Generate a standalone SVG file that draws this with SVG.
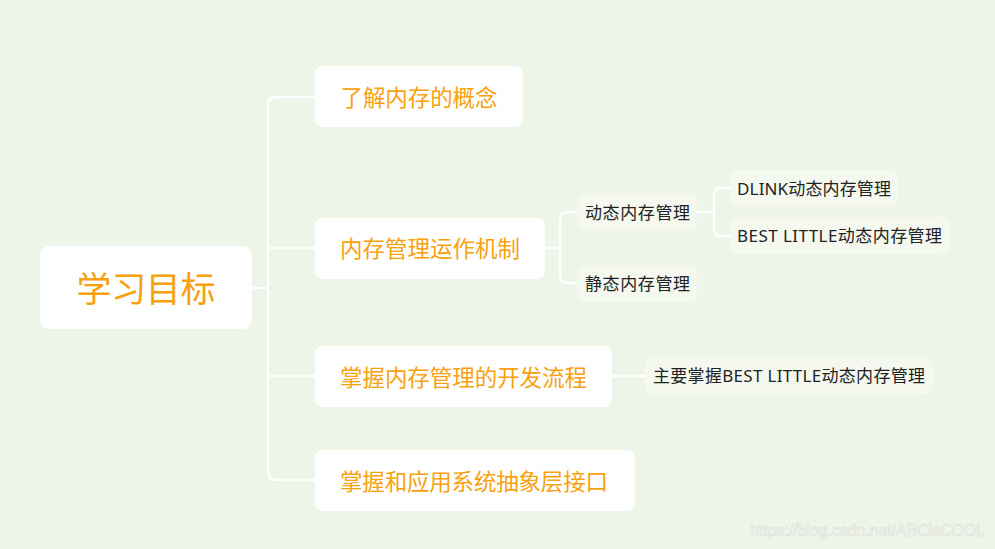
<svg xmlns="http://www.w3.org/2000/svg" width="995" height="549" viewBox="0 0 995 549">
<style>
text{font-family:"Noto Sans","Noto Sans CJK SC",sans-serif;dominant-baseline:central;text-anchor:middle}
.b1{fill:#ffffff}
.t0{fill:#F7A10E;font-size:35px}
.t1{fill:#F7A10E;font-size:22.5px}
.b2{fill:#F4F8EF}
.t2{fill:#222222;font-size:17px;text-anchor:start}
.c{fill:none;stroke:#ffffff;stroke-width:2.5}
.wm{fill:#f6f8f4;stroke:#d6dad2;stroke-width:0.5;font-size:16px;font-family:"Liberation Sans",sans-serif;text-anchor:start}
</style>
<rect width="995" height="549" fill="#EDF4E8"/>
<g id="connectors">
<path class="c" d="M252 288 H268"/>
<path class="c" d="M315 97 H276 Q268 97 268 105 V472 Q268 480 276 480 H315"/>
<path class="c" d="M268 248 H315"/>
<path class="c" d="M268 376 H315"/>
<path class="c" d="M545 248 H560"/>
<path class="c" d="M577 212 H568 Q560 212 560 220 V275 Q560 283 568 283 H577"/>
<path class="c" d="M697 212 H714"/>
<path class="c" d="M730 188 H721 Q714 188 714 195 V228 Q714 236 721 236 H730"/>
<path class="c" d="M612 376 H645"/>
</g>
<g id="root"><rect class="b1" x="40" y="246" width="212" height="83" rx="9"/><text class="t0" x="146" y="288" textLength="139">学习目标</text></g>
<g id="n1"><rect class="b1" x="315" y="66" width="208" height="61" rx="8"/><text class="t1" x="419" y="97" textLength="157">了解内存的概念</text></g>
<g id="n2"><rect class="b1" x="315" y="218" width="230" height="61" rx="8"/><text class="t1" x="430" y="248" textLength="180">内存管理运作机制</text></g>
<g id="n3"><rect class="b1" x="315" y="346" width="297" height="61" rx="8"/><text class="t1" x="463.5" y="377" textLength="247">掌握内存管理的开发流程</text></g>
<g id="n4"><rect class="b1" x="315" y="450" width="320" height="61" rx="8"/><text class="t1" x="474" y="481" textLength="268">掌握和应用系统抽象层接口</text></g>
<g id="n21"><rect class="b2" x="577" y="193" width="120" height="38" rx="6"/><text class="t2" x="585" y="212" textLength="105">动态内存管理</text></g>
<g id="n22"><rect class="b2" x="577" y="265" width="120" height="37" rx="6"/><text class="t2" x="585" y="283.5" textLength="105">静态内存管理</text></g>
<g id="n211"><rect class="b2" x="730" y="170" width="168" height="37" rx="6"/><text class="t2" x="737" y="188.5" textLength="154">DLINK动态内存管理</text></g>
<g id="n212"><rect class="b2" x="730" y="217" width="219" height="37" rx="6"/><text class="t2" x="737" y="235.5" textLength="205">BEST LITTLE动态内存管理</text></g>
<g id="n31"><rect class="b2" x="645" y="357" width="288" height="37" rx="6"/><text class="t2" x="653" y="375.5" textLength="272">主要掌握BEST LITTLE动态内存管理</text></g>
<text class="wm" x="750" y="530" textLength="235">https://blog.csdn.net/ABCisCOOL</text>
</svg>
